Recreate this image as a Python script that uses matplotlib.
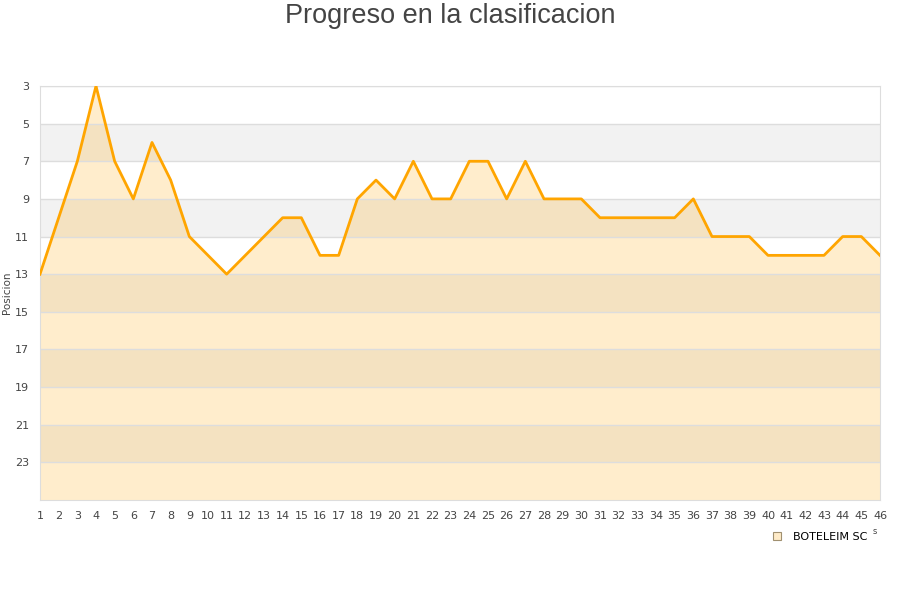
import matplotlib
matplotlib.use('Agg')
import matplotlib.pyplot as plt
from matplotlib.lines import Line2D

# jornadas and posicion
jornadas = list(range(1, 47))
posicion = [13, 10, 7, 3, 7, 9, 6, 8, 11, 12, 13, 12, 11, 10, 10, 12, 12, 9, 8, 9,
            7, 9, 9, 7, 7, 9, 7, 9, 9, 9, 10, 10, 10, 10, 10, 9, 11, 11, 11, 12,
            12, 12, 12, 11, 11, 12]
y_ticks = [3, 5, 7, 9, 11, 13, 15, 17, 19, 21, 23]
equipo = 'BOTELEIM SC'

fig = plt.figure(figsize=(9, 6), dpi=100)
ax = fig.add_axes([40/900, 100/600, 840/900, 414/600])

# alternating bands
for lo in range(5, 25, 4):
    ax.axhspan(lo, lo + 2, color='#f2f2f2', zorder=0, lw=0)
for t in y_ticks:
    ax.axhline(t, color='#dddddd', lw=1, zorder=3)

ax.fill_between(jornadas, posicion, 25, color='#ffa500', alpha=0.2, lw=0, zorder=1)
ax.plot(jornadas, posicion, color='#ffa500', lw=2, zorder=4)

ax.set_xlim(1, 46)
ax.set_ylim(25, 3)
ax.set_xticks(jornadas)
ax.set_yticks(y_ticks)
ax.tick_params(length=0, labelsize=8, colors='#444444', pad=8)
for s in ax.spines.values():
    s.set_color('#dddddd')
ax.set_ylabel('Posicion', fontsize=7.5, color='#444444')
ax.yaxis.set_label_coords(-0.033, 0.5)

fig.text(0.5, 1 - 16/600, 'Progreso en la clasificacion', fontsize=19.5, color='#444444',
         ha='center', va='center', family='Liberation Sans')

handle = Line2D([], [], marker='s', ls='', markersize=6, markerfacecolor='#ffebc8',
                markeredgecolor='#a09070', markeredgewidth=0.8)
fig.legend([handle], [equipo], loc='center left', bbox_to_anchor=(767/900, 1 - 537/600),
           frameon=False, fontsize=8, handletextpad=0.9, handlelength=1, borderaxespad=0)
fig.text(875/900, 1 - 532/600, 's', fontsize=6, color='#444444', ha='center', va='center')

fig.savefig('out.png', dpi=100)
